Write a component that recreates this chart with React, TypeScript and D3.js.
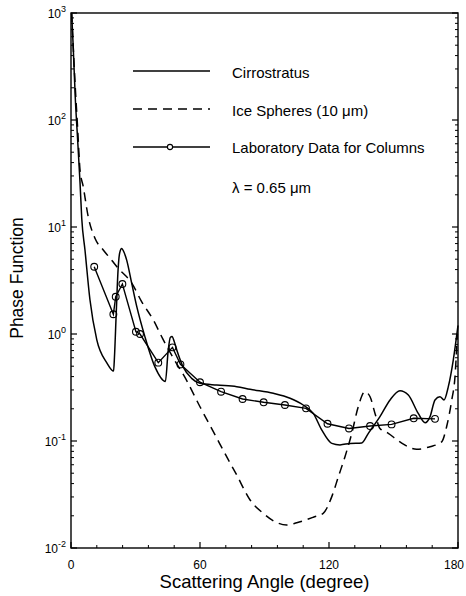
import React from "react";
import * as d3 from "d3";

// ---------- data ----------
const cirroAngle = [0.3, 1, 2, 3, 4.2, 5, 6.5, 8.8, 12, 16.6, 19.8, 20.2, 21, 21.9, 22.7, 23.6, 24.5, 25.9, 28.2, 30.6, 34.4, 39.1, 43.9, 45.2, 46.2, 47, 48, 49.2, 52.2, 56.1, 60, 67.8, 77.1, 83.3, 94.1, 101.9, 108, 112.7, 116.6, 121.3, 125.1, 129.8, 135.2, 138.3, 143.7, 148.4, 153, 156.9, 161.5, 164.7, 167, 169.3, 171.6, 173.5, 175.5, 177.8, 180];
const cirroValue = [1000, 500, 160, 70, 26, 12, 6.1, 2.1, 0.88, 0.54, 0.45, 0.6, 1.5, 4.0, 5.8, 6.3, 5.9, 4.9, 3.0, 1.8, 0.94, 0.49, 0.36, 0.7, 0.93, 0.95, 0.85, 0.71, 0.49, 0.385, 0.346, 0.333, 0.322, 0.304, 0.279, 0.251, 0.217, 0.181, 0.127, 0.095, 0.092, 0.095, 0.096, 0.118, 0.169, 0.242, 0.295, 0.269, 0.181, 0.148, 0.169, 0.242, 0.259, 0.242, 0.322, 0.571, 1.2];

const sphereAngle = [0.3, 1, 2, 3, 4.2, 5.7, 8, 11.2, 15, 18.9, 22, 28.2, 32.9, 38.3, 42.7, 47.5, 53.4, 60, 67, 72.4, 77.1, 83.3, 89.4, 94.9, 100.3, 105, 112.7, 117.3, 121.3, 124.3, 127.4, 130.6, 133.6, 136.7, 139.1, 141.4, 143.7, 147.6, 153, 160.8, 167, 172.4, 174.7, 177.1, 178.6, 179.7];
const sphereValue = [1000, 500, 200, 90, 34, 23.8, 12.5, 7.8, 6.1, 4.9, 4.1, 3.0, 2.0, 1.35, 0.9, 0.6, 0.38, 0.209, 0.114, 0.0713, 0.048, 0.0281, 0.0211, 0.0176, 0.0164, 0.0172, 0.0194, 0.0211, 0.0302, 0.046, 0.071, 0.118, 0.209, 0.289, 0.259, 0.181, 0.131, 0.118, 0.098, 0.0836, 0.0885, 0.098, 0.136, 0.242, 0.4, 1.0];

const labAngle = [10.8, 19.7, 20.8, 23.9, 30.2, 32.1, 40.6, 47.2, 50.9, 60, 69.8, 79.8, 89.6, 99.5, 109.3, 119.3, 129.3, 139.1, 149.1, 159.4, 169.3];
const labValue = [4.25, 1.53, 2.23, 2.93, 1.05, 1.0, 0.54, 0.75, 0.52, 0.354, 0.289, 0.247, 0.23, 0.217, 0.202, 0.145, 0.131, 0.138, 0.143, 0.163, 0.161];

const xMajorTicks = [0, 60, 120, 180];
const yExponents = [3, 2, 1, 0, -1, -2];
const legendLabels = ["Cirrostratus", "Ice Spheres (10 \u03bcm)", "Laboratory Data for Columns"];
const wavelengthLabel = "\u03bb = 0.65 \u03bcm";
const xTitle = "Scattering Angle (degree)";
const yTitle = "Phase Function";

// ---------- layout ----------
const W = 466, H = 596;
const L = 71, R = 458, T = 13, B = 548;
const FONT = "'Liberation Sans', Arial, Helvetica, sans-serif";

export default function App() {
  const x = d3.scaleLinear().domain([0, 180]).range([L, R]);
  const y = d3.scaleLog().domain([0.01, 1000]).range([B, T]);

  const line = d3
    .line<[number, number]>()
    .x((d) => x(d[0]))
    .y((d) => y(d[1]));
  const smooth = d3
    .line<[number, number]>()
    .x((d) => x(d[0]))
    .y((d) => y(d[1]))
    .curve(d3.curveMonotoneX);

  const cirro = cirroAngle.map((a, i) => [a, cirroValue[i]] as [number, number]);
  const sphere = sphereAngle.map((a, i) => [a, sphereValue[i]] as [number, number]);
  const lab = labAngle.map((a, i) => [a, labValue[i]] as [number, number]);

  const xMinor = d3.range(0, 181, 12).filter((v) => !xMajorTicks.includes(v));
  const yMinor: number[] = [];
  for (let e = -2; e < 3; e++) for (let k = 2; k <= 9; k++) yMinor.push(k * Math.pow(10, e));

  const legendRows = [71, 109, 147];
  const legendBase = [78, 116, 153];

  return (
    <svg
      width={W}
      height={H}
      style={{ position: "absolute", left: 0, top: 0, background: "#fff" }}
      fontFamily={FONT}
    >
      <rect x={0} y={0} width={W} height={H} fill="#fff" />
      {/* frame */}
      <rect x={L} y={T} width={R - L} height={B - T} fill="none" stroke="#000" strokeWidth={1.4} />

      {/* x ticks */}
      {xMajorTicks.map((t) => (
        <g key={"xM" + t}>
          <line x1={x(t)} x2={x(t)} y1={B} y2={B - 6} stroke="#000" strokeWidth={1.2} />
          <text x={Math.min(x(t), 454)} y={569} fontSize={12} textAnchor="middle">{t}</text>
        </g>
      ))}
      {xMinor.map((t) => (
        <line key={"xm" + t} x1={x(t)} x2={x(t)} y1={B} y2={B - 3} stroke="#000" strokeWidth={1} />
      ))}

      {/* y ticks */}
      {yExponents.map((e) => (
        <g key={"yM" + e}>
          <line x1={L} x2={L + 6} y1={y(Math.pow(10, e))} y2={y(Math.pow(10, e))} stroke="#000" strokeWidth={1.2} />
          <line x1={R} x2={R - 6} y1={y(Math.pow(10, e))} y2={y(Math.pow(10, e))} stroke="#000" strokeWidth={1.2} />
          <text x={66} y={y(Math.pow(10, e)) + 5} fontSize={12} textAnchor="end">
            10
            <tspan fontSize={9} dy={-6}>{e}</tspan>
          </text>
        </g>
      ))}
      {yMinor.map((v, i) => (
        <g key={"ym" + i}>
          <line x1={L} x2={L + 3} y1={y(v)} y2={y(v)} stroke="#000" strokeWidth={1} />
          <line x1={R} x2={R - 3} y1={y(v)} y2={y(v)} stroke="#000" strokeWidth={1} />
        </g>
      ))}

      {/* curves */}
      <path d={smooth(cirro) || ""} fill="none" stroke="#000" strokeWidth={1.5} />
      <path d={smooth(sphere) || ""} fill="none" stroke="#000" strokeWidth={1.5} strokeDasharray="9,6" />
      <path d={line(lab) || ""} fill="none" stroke="#000" strokeWidth={1.4} />
      {lab.map((d, i) => (
        <circle key={"c" + i} cx={x(d[0])} cy={y(d[1])} r={3.4} fill="none" stroke="#000" strokeWidth={1.1} />
      ))}

      {/* legend */}
      <line x1={133} x2={210} y1={legendRows[0]} y2={legendRows[0]} stroke="#000" strokeWidth={1.5} />
      <line x1={133} x2={210} y1={legendRows[1]} y2={legendRows[1]} stroke="#000" strokeWidth={1.5} strokeDasharray="9,6" />
      <line x1={133} x2={210} y1={legendRows[2]} y2={legendRows[2]} stroke="#000" strokeWidth={1.5} />
      <circle cx={170} cy={legendRows[2]} r={2.6} fill="#fff" stroke="#000" strokeWidth={1.1} />
      {legendLabels.map((s, i) => (
        <text key={s} x={232} y={legendBase[i]} fontSize={15}>{s}</text>
      ))}
      <text x={232} y={193} fontSize={15}>{wavelengthLabel}</text>

      {/* titles */}
      <text x={(L + R) / 2} y={588} fontSize={18.5} textAnchor="middle">{xTitle}</text>
      <text transform={`translate(23,278) rotate(-90)`} fontSize={17.5} textAnchor="middle">{yTitle}</text>
    </svg>
  );
}
